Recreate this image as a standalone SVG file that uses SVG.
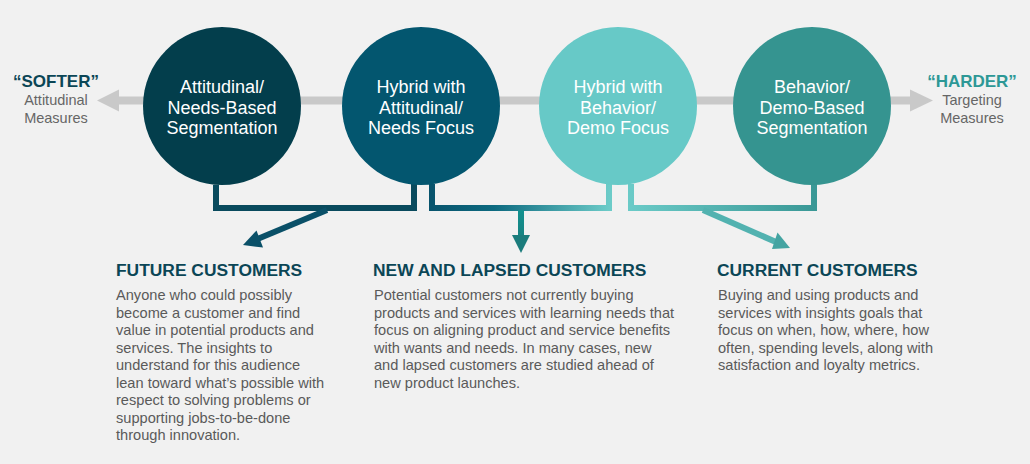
<svg xmlns="http://www.w3.org/2000/svg" width="1030" height="464" viewBox="0 0 1030 464">
<style>
.ct{font-family:"Liberation Sans",Arial,sans-serif;font-size:18px;fill:#ffffff;text-anchor:middle}
.side{font-family:"Liberation Sans",Arial,sans-serif;font-size:14.5px;fill:#666666;text-anchor:middle}
.sideh{font-family:"Liberation Sans",Arial,sans-serif;font-size:17px;font-weight:bold;text-anchor:middle}
.h{font-family:"Liberation Sans",Arial,sans-serif;font-size:17.4px;font-weight:bold;fill:#0b4656}
.b{font-family:"Liberation Sans",Arial,sans-serif;font-size:14.6px;fill:#5a5a5a}
.br{fill:none;stroke-width:6}
</style>
<defs>
<linearGradient id="gMid" gradientUnits="userSpaceOnUse" x1="432" y1="0" x2="609" y2="0">
<stop offset="0" stop-color="#08546d"/><stop offset="0.35" stop-color="#0d6a80"/><stop offset="1" stop-color="#6ccbc8"/>
</linearGradient>
<linearGradient id="gRight" gradientUnits="userSpaceOnUse" x1="631" y1="0" x2="814" y2="0">
<stop offset="0" stop-color="#6acac7"/><stop offset="1" stop-color="#3a9896"/>
</linearGradient>
<linearGradient id="gDown" gradientUnits="userSpaceOnUse" x1="0" y1="211" x2="0" y2="253">
<stop offset="0" stop-color="#12908e"/><stop offset="1" stop-color="#1b7a7a"/>
</linearGradient>
</defs>
<rect x="0" y="0" width="1030" height="464" fill="#f1f1f1"/>

<g id="axis">
<rect x="116" y="96.5" width="796" height="8" fill="#c9c9c9"/>
<polygon points="97,100.5 119,89.5 119,111.5" fill="#c9c9c9"/>
<polygon points="933,100.5 910,89.5 910,111.5" fill="#c9c9c9"/>
</g>

<g id="connectors">
<polyline class="br" stroke="#094a5d" points="216,185 216,208 414,208 414,184"/>
<polyline class="br" stroke="url(#gMid)" points="432,184 432,208 609,208 609,184"/>
<polyline class="br" stroke="url(#gRight)" points="631,184 631,208 814,208 814,184"/>
<line x1="327" y1="210" x2="255" y2="240" stroke="#0a5068" stroke-width="6"/>
<polygon points="243,245 263,247.5 256.5,230.5" fill="#0a5068"/>
<line x1="521" y1="210" x2="521" y2="238" stroke="url(#gDown)" stroke-width="6"/>
<polygon points="512,235 530,235 521,253" fill="#1b7c7c"/>
<line x1="703" y1="210" x2="776" y2="242" stroke="#52b2b0" stroke-width="6"/>
<polygon points="790,248 772,249 777.5,232.5" fill="#44a4a2"/>
</g>

<g id="softer">
<text class="sideh" x="56" y="87" fill="#0b4656">“SOFTER”</text>
<text class="side" x="56" y="105">Attitudinal</text>
<text class="side" x="56" y="123">Measures</text>
</g>
<g id="harder">
<text class="sideh" x="972" y="87" fill="#2d9896">“HARDER”</text>
<text class="side" x="972" y="105">Targeting</text>
<text class="side" x="972" y="123">Measures</text>
</g>

<g id="node1">
<circle cx="222" cy="106" r="79" fill="#033e4c"/>
<text class="ct" x="222" y="93">Attitudinal/</text>
<text class="ct" x="222" y="113.5">Needs-Based</text>
<text class="ct" x="222" y="134">Segmentation</text>
</g>
<g id="node2">
<circle cx="421" cy="106" r="79" fill="#03566f"/>
<text class="ct" x="421" y="93">Hybrid with</text>
<text class="ct" x="421" y="113.5">Attitudinal/</text>
<text class="ct" x="421" y="134">Needs Focus</text>
</g>
<g id="node3">
<circle cx="618" cy="106" r="79" fill="#67c9c7"/>
<text class="ct" x="618" y="93">Hybrid with</text>
<text class="ct" x="618" y="113.5">Behavior/</text>
<text class="ct" x="618" y="134">Demo Focus</text>
</g>
<g id="node4">
<circle cx="812" cy="106" r="79" fill="#359490"/>
<text class="ct" x="812" y="93">Behavior/</text>
<text class="ct" x="812" y="113.5">Demo-Based</text>
<text class="ct" x="812" y="134">Segmentation</text>
</g>

<g id="future">
<text class="h" x="116" y="276">FUTURE CUSTOMERS</text>
<text class="b" x="116" y="300">Anyone who could possibly</text>
<text class="b" x="116" y="317.5">become a customer and find</text>
<text class="b" x="116" y="335">value in potential products and</text>
<text class="b" x="116" y="352.5">services. The insights to</text>
<text class="b" x="116" y="370">understand for this audience</text>
<text class="b" x="116" y="387.5">lean toward what’s possible with</text>
<text class="b" x="116" y="405">respect to solving problems or</text>
<text class="b" x="116" y="422.5">supporting jobs-to-be-done</text>
<text class="b" x="116" y="440">through innovation.</text>
</g>
<g id="newlapsed">
<text class="h" x="373" y="276">NEW AND LAPSED CUSTOMERS</text>
<text class="b" x="374" y="300">Potential customers not currently buying</text>
<text class="b" x="374" y="317.5">products and services with learning needs that</text>
<text class="b" x="374" y="335">focus on aligning product and service benefits</text>
<text class="b" x="374" y="352.5">with wants and needs. In many cases, new</text>
<text class="b" x="374" y="370">and lapsed customers are studied ahead of</text>
<text class="b" x="374" y="387.5">new product launches.</text>
</g>
<g id="current">
<text class="h" x="717" y="276">CURRENT CUSTOMERS</text>
<text class="b" x="718" y="300">Buying and using products and</text>
<text class="b" x="718" y="317.5">services with insights goals that</text>
<text class="b" x="718" y="335">focus on when, how, where, how</text>
<text class="b" x="718" y="352.5">often, spending levels, along with</text>
<text class="b" x="718" y="370">satisfaction and loyalty metrics.</text>
</g>
</svg>
